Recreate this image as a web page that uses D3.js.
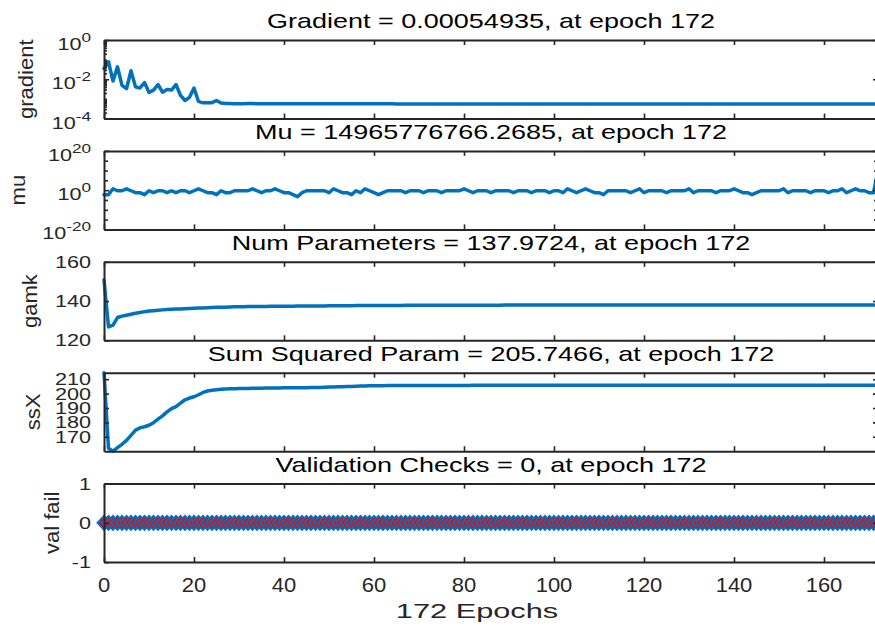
<!DOCTYPE html>
<html><head><meta charset="utf-8">
<script src="https://cdn.jsdelivr.net/npm/d3@7"></script>
<style>html,body{margin:0;padding:0;background:#fff;} svg{display:block;}</style>
</head><body><svg id="c" width="875" height="628"></svg>
<script>
// ---------------- data ----------------
const epochs = d3.range(0, 173);
const xTicks = [0, 20, 40, 60, 80, 100, 120, 140, 160];

const titles = [
  "Gradient = 0.00054935, at epoch 172",
  "Mu = 14965776766.2685, at epoch 172",
  "Num Parameters = 137.9724, at epoch 172",
  "Sum Squared Param = 205.7466, at epoch 172",
  "Validation Checks = 0, at epoch 172"
];
const yLabels = ["gradient", "mu", "gamk", "ssX", "val fail"];

const gradTicks = [1, 1e-2, 1e-4];
const gradExp = ["0", "-2", "-4"];
const muTicks = [1e20, 1, 1e-20];
const muExp = ["20", "0", "-20"];
const muMinor = [1e15, 1e10, 1e5, 1e-5, 1e-10, 1e-15];
const gamkTicks = [120, 140, 160];
const ssXTicks = [170, 180, 190, 200, 210];
const valTicks = [-1, 0, 1];

const gradient = [
  3.5e-2, 7.8e-2, 8.1e-3, 4.3e-2, 4.9e-3, 3.3e-3, 2.7e-2, 4.1e-3, 3.6e-3, 6.8e-3,
  2.1e-3, 2.8e-3, 5.4e-3, 2.2e-3, 3.0e-3, 2.8e-3, 5.4e-3, 1.5e-3, 8.3e-4, 1.2e-3,
  3.6e-3, 7.4e-4, 6.3e-4, 6.3e-4, 6.4e-4, 8.3e-4, 6.2e-4, 5.8e-4, 5.8e-4, 5.7e-4,
  5.6e-4, 5.7e-4, 5.8e-4, 5.8e-4, 5.7e-4, 5.6e-4, 5.6e-4, 5.6e-4, 5.6e-4, 5.6e-4,
  5.6e-4, 5.7e-4, 5.6e-4, 5.6e-4, 5.6e-4, 5.6e-4, 5.6e-4, 5.6e-4, 5.6e-4, 5.6e-4,
  5.6e-4, 5.6e-4, 5.6e-4, 5.6e-4, 5.6e-4, 5.6e-4, 5.6e-4, 5.6e-4, 5.6e-4, 5.6e-4,
  5.6e-4, 5.6e-4, 5.6e-4, 5.6e-4, 5.6e-4, 5.5e-4, 5.5e-4, 5.5e-4, 5.5e-4, 5.5e-4,
  5.5e-4, 5.5e-4, 5.5e-4, 5.5e-4, 5.5e-4, 5.5e-4, 5.5e-4, 5.5e-4, 5.5e-4, 5.5e-4,
  5.5e-4, 5.5e-4, 5.5e-4, 5.5e-4, 5.5e-4, 5.5e-4, 5.5e-4, 5.5e-4, 5.5e-4, 5.5e-4,
  5.5e-4, 5.5e-4, 5.5e-4, 5.5e-4, 5.5e-4, 5.5e-4, 5.5e-4, 5.5e-4, 5.5e-4, 5.5e-4,
  5.5e-4, 5.5e-4, 5.5e-4, 5.5e-4, 5.5e-4, 5.5e-4, 5.5e-4, 5.5e-4, 5.5e-4, 5.5e-4,
  5.5e-4, 5.5e-4, 5.5e-4, 5.5e-4, 5.5e-4, 5.5e-4, 5.5e-4, 5.5e-4, 5.5e-4, 5.5e-4,
  5.5e-4, 5.5e-4, 5.5e-4, 5.5e-4, 5.5e-4, 5.5e-4, 5.5e-4, 5.5e-4, 5.5e-4, 5.5e-4,
  5.5e-4, 5.5e-4, 5.5e-4, 5.5e-4, 5.5e-4, 5.5e-4, 5.5e-4, 5.5e-4, 5.5e-4, 5.5e-4,
  5.5e-4, 5.5e-4, 5.5e-4, 5.5e-4, 5.5e-4, 5.5e-4, 5.5e-4, 5.5e-4, 5.5e-4, 5.5e-4,
  5.5e-4, 5.5e-4, 5.5e-4, 5.5e-4, 5.5e-4, 5.5e-4, 5.5e-4, 5.5e-4, 5.5e-4, 5.5e-4,
  5.5e-4, 5.5e-4, 5.5e-4, 5.5e-4, 5.5e-4, 5.5e-4, 5.5e-4, 5.5e-4, 5.5e-4, 5.5e-4,
  5.5e-4, 5.5e-4, 5.4935e-4
];

const mu = [
  0.005, 0.005, 5, 0.5, 0.5, 5, 0.5, 0.05, 0.05, 0.005,
  0.5, 0.05, 0.5, 0.5, 0.05, 0.5, 0.05, 0.5, 0.5, 0.05,
  0.5, 5, 0.5, 0.05, 0.05, 0.005, 0.5, 0.05, 0.05, 0.5,
  0.5, 0.5, 0.5, 5, 0.5, 0.05, 0.5, 0.5, 5, 0.5,
  0.05, 0.05, 0.005, 0.0005, 0.05, 0.5, 0.5, 0.5, 0.5, 0.5,
  0.05, 5, 0.5, 0.05, 0.05, 0.005, 0.5, 0.05, 5, 0.5,
  0.05, 0.005, 0.05, 0.5, 0.5, 0.5, 0.5, 0.05, 0.5, 0.5,
  0.5, 0.05, 0.5, 0.5, 0.5, 0.05, 0.5, 0.5, 0.5, 0.5,
  5, 0.5, 0.05, 0.5, 0.5, 0.5, 0.05, 0.5, 0.5, 0.5,
  0.5, 0.05, 0.5, 0.5, 0.5, 0.05, 0.5, 0.5, 0.5, 0.05,
  0.5, 0.5, 0.05, 5, 0.5, 0.05, 0.5, 5, 0.5, 0.05,
  0.05, 0.005, 0.5, 0.5, 0.5, 0.5, 0.5, 0.05, 0.5, 5,
  0.05, 0.5, 0.5, 0.5, 0.5, 0.05, 0.5, 0.5, 0.5, 0.5,
  5, 0.05, 0.5, 0.5, 0.5, 0.5, 0.05, 0.5, 0.5, 0.5,
  5, 0.5, 0.05, 0.05, 0.005, 0.05, 0.5, 0.5, 0.5, 0.5,
  0.5, 5, 0.05, 0.5, 0.5, 0.5, 0.5, 0.05, 0.5, 0.5,
  0.5, 0.05, 0.5, 0.5, 5, 0.05, 0.5, 5, 0.5, 0.5,
  0.05, 0.05, 14965776766.2685
];

const gamk = [
  150.8, 126.8, 127.7, 131.6, 132.3, 132.8, 133.3, 133.8, 134.2, 134.6,
  134.9, 135.1, 135.3, 135.5, 135.65, 135.8, 135.9, 136.0, 136.1, 136.2,
  136.3, 136.4, 136.5, 136.6, 136.7, 136.8, 136.85, 136.9, 137.0, 137.05,
  137.1, 137.13, 137.16, 137.19, 137.22, 137.25, 137.28, 137.3, 137.32, 137.34,
  137.36, 137.38, 137.4, 137.42, 137.44, 137.46, 137.48, 137.5, 137.52, 137.54,
  137.56, 137.58, 137.6, 137.62, 137.64, 137.66, 137.68, 137.7, 137.71, 137.72,
  137.73, 137.74, 137.75, 137.76, 137.77, 137.78, 137.79, 137.8, 137.81, 137.82,
  137.83, 137.84, 137.85, 137.86, 137.87, 137.87, 137.88, 137.88, 137.89, 137.89,
  137.9, 137.9, 137.91, 137.91, 137.91, 137.92, 137.92, 137.92, 137.92, 137.93,
  137.93, 137.93, 137.93, 137.93, 137.94, 137.94, 137.94, 137.94, 137.94, 137.94,
  137.95, 137.95, 137.95, 137.95, 137.95, 137.95, 137.95, 137.95, 137.95, 137.95,
  137.96, 137.96, 137.96, 137.96, 137.96, 137.96, 137.96, 137.96, 137.96, 137.96,
  137.96, 137.96, 137.96, 137.96, 137.96, 137.96, 137.96, 137.96, 137.96, 137.96,
  137.97, 137.97, 137.97, 137.97, 137.97, 137.97, 137.97, 137.97, 137.97, 137.97,
  137.97, 137.97, 137.97, 137.97, 137.97, 137.97, 137.97, 137.97, 137.97, 137.97,
  137.97, 137.97, 137.97, 137.97, 137.97, 137.97, 137.97, 137.97, 137.97, 137.97,
  137.97, 137.97, 137.97, 137.97, 137.97, 137.97, 137.97, 137.97, 137.97, 137.97,
  137.97, 137.97, 137.9724
];

const ssX = [
  214.5, 162.0, 160.0, 162.5, 164.8, 167.5, 171.0, 174.6, 176.2, 177.0,
  178.0, 179.8, 182.2, 184.5, 187.3, 189.6, 191.0, 193.4, 195.7, 196.9,
  197.8, 199.2, 200.8, 201.8, 202.3, 202.7, 203.0, 203.2, 203.3, 203.4,
  203.5, 203.55, 203.6, 203.65, 203.7, 203.75, 203.8, 203.85, 203.9, 203.95,
  204.0, 204.0, 204.05, 204.05, 204.1, 204.1, 204.15, 204.2, 204.3, 204.4,
  204.5, 204.6, 204.7, 204.8, 204.9, 205.0, 205.1, 205.2, 205.3, 205.4,
  205.45, 205.5, 205.52, 205.54, 205.56, 205.58, 205.6, 205.6, 205.61, 205.62,
  205.63, 205.64, 205.65, 205.66, 205.67, 205.68, 205.68, 205.69, 205.69, 205.7,
  205.7, 205.7, 205.71, 205.71, 205.71, 205.72, 205.72, 205.72, 205.72, 205.72,
  205.73, 205.73, 205.73, 205.73, 205.73, 205.73, 205.73, 205.73, 205.73, 205.73,
  205.74, 205.74, 205.74, 205.74, 205.74, 205.74, 205.74, 205.74, 205.74, 205.74,
  205.74, 205.74, 205.74, 205.74, 205.74, 205.74, 205.74, 205.74, 205.74, 205.74,
  205.74, 205.74, 205.74, 205.74, 205.74, 205.74, 205.74, 205.74, 205.74, 205.74,
  205.74, 205.74, 205.74, 205.74, 205.74, 205.74, 205.74, 205.74, 205.74, 205.74,
  205.75, 205.75, 205.75, 205.75, 205.75, 205.75, 205.75, 205.75, 205.75, 205.75,
  205.75, 205.75, 205.75, 205.75, 205.75, 205.75, 205.75, 205.75, 205.75, 205.75,
  205.75, 205.75, 205.75, 205.75, 205.75, 205.75, 205.75, 205.75, 205.75, 205.75,
  205.75, 205.75, 205.7466
];

const valFail = [
  0,0,0,0,0,0,0,0,0,0, 0,0,0,0,0,0,0,0,0,0, 0,0,0,0,0,0,0,0,0,0,
  0,0,0,0,0,0,0,0,0,0, 0,0,0,0,0,0,0,0,0,0, 0,0,0,0,0,0,0,0,0,0,
  0,0,0,0,0,0,0,0,0,0, 0,0,0,0,0,0,0,0,0,0, 0,0,0,0,0,0,0,0,0,0,
  0,0,0,0,0,0,0,0,0,0, 0,0,0,0,0,0,0,0,0,0, 0,0,0,0,0,0,0,0,0,0,
  0,0,0,0,0,0,0,0,0,0, 0,0,0,0,0,0,0,0,0,0, 0,0,0,0,0,0,0,0,0,0,
  0,0,0,0,0,0,0,0,0,0, 0,0,0,0,0,0,0,0,0,0, 0,0,0
];

// ---------------- layout ----------------
const FONT = "'Liberation Sans', Arial, Helvetica, sans-serif";
const AX = "#262626";
const LINE = "#0072BD";
const X0 = 104, X1 = 878;
const PH = 78.5;
const topOf = i => 40 + 110.9 * i;

const svg = d3.select("#c");
svg.append("rect").attr("width", 875).attr("height", 628).attr("fill", "#fff");

const x = d3.scaleLinear().domain([0, 172]).range([X0, X1]);

function stext(g, tx, ty, str, size, sx, anchor, rot, color) {
  const t = g.append("text")
    .attr("transform", `translate(${tx},${ty})` + (rot ? " rotate(-90)" : "") + ` scale(${sx},1)`)
    .attr("font-family", FONT).attr("font-size", size)
    .attr("text-anchor", anchor).attr("fill", color || AX);
  t.text(str);
  return t;
}
function powText(g, tx, ty, exp) {
  const t = g.append("text")
    .attr("transform", `translate(${tx},${ty}) scale(1.27,1)`)
    .attr("font-family", FONT).attr("font-size", 17)
    .attr("text-anchor", "end").attr("fill", AX);
  t.append("tspan").text("10");
  t.append("tspan").attr("font-size", 13.5).attr("dy", -8).text(exp);
}

const panels = [
  { values: gradient, log: true, domain: [1e-4, 1], ticks: gradTicks, exps: gradExp,
    minor: d3.scaleLog().domain([1e-4, 1]).ticks().filter(v => !gradTicks.includes(v)), labelX: 33 },
  { values: mu, log: true, domain: [1e-20, 1e20], ticks: muTicks, exps: muExp, minor: muMinor, labelX: 25 },
  { values: gamk, log: false, domain: [120, 160], ticks: gamkTicks, labelX: 37 },
  { values: ssX, log: false, domain: [160, 214.5], ticks: ssXTicks, labelX: 40 },
  { values: valFail, log: false, domain: [-1, 1], ticks: valTicks, labelX: 59, markers: true }
];

panels.forEach((p, i) => {
  const top = topOf(i), bot = top + PH;
  const y = (p.log ? d3.scaleLog() : d3.scaleLinear()).domain(p.domain).range([bot, top]);
  const g = svg.append("g");

  // data line
  const line = d3.line().x((d, k) => x(epochs[k])).y(d => y(d));
  g.append("path").datum(p.values).attr("d", line)
    .attr("fill", "none").attr("stroke", LINE).attr("stroke-width", p.markers ? 2 : 3.5)
    .attr("stroke-linejoin", "round").attr("stroke-linecap", "round");

  if (p.markers) {
    g.append("g").selectAll("path").data(p.values).join("path")
      .attr("transform", (d, k) => `translate(${x(epochs[k])},${y(d)})`)
      .attr("d", "M-6.5,0L0,-7L6.5,0L0,7Z")
      .attr("fill", "#FF0000").attr("stroke", LINE).attr("stroke-width", 2);
  }

  // axes (box with inward ticks)
  const ax = [];
  ax.push(g.append("g").attr("transform", `translate(0,${bot})`)
    .call(d3.axisBottom(x).tickValues(xTicks).tickSize(-5).tickSizeOuter(0).tickFormat("")));
  ax.push(g.append("g").attr("transform", `translate(0,${top})`)
    .call(d3.axisTop(x).tickValues(xTicks).tickSize(-5).tickSizeOuter(0).tickFormat("")));
  ax.push(g.append("g").attr("transform", `translate(${X0},0)`)
    .call(d3.axisLeft(y).tickValues(p.ticks).tickSize(-5).tickSizeOuter(0).tickFormat("")));
  ax.push(g.append("g").attr("transform", `translate(${X1},0)`)
    .call(d3.axisRight(y).tickValues(p.ticks).tickSize(-5).tickSizeOuter(0).tickFormat("")));
  if (p.minor) {
    const len = i === 0 ? -3 : -4;
    const ml = g.append("g").attr("transform", `translate(${X0},0)`)
      .call(d3.axisLeft(y).tickValues(p.minor).tickSize(len).tickSizeOuter(0).tickFormat(""));
    ml.select(".domain").remove();
    ax.push(ml);
    const mr = g.append("g").attr("transform", `translate(${X1},0)`)
      .call(d3.axisRight(y).tickValues(p.minor).tickSize(len).tickSizeOuter(0).tickFormat(""));
    mr.select(".domain").remove();
    ax.push(mr);
  }
  ax.forEach(a => {
    a.select(".domain").attr("stroke", AX).attr("stroke-width", 2);
    a.selectAll(".tick line").attr("stroke", AX).attr("stroke-width", 1.6);
  });

  // y tick labels
  p.ticks.forEach((t, k) => {
    if (p.log) powText(g, 91, y(t) + 10, p.exps[k]);
    else stext(g, 91, y(t) + 6, String(t), 17, 1.27, "end", false);
  });

  // title
  stext(g, (X0 + X1) / 2, top - 12, titles[i], 20, 1.35, "middle", false, "#000");
  // y label
  stext(g, p.labelX, top + PH / 2, yLabels[i], 19.5, 1.13, "middle", true);

  // x tick labels on last panel
  if (i === panels.length - 1) {
    xTicks.forEach(t => stext(g, x(t), bot + 30, String(t), 20, 1.1, "middle", false));
    stext(g, 477, bot + 56, "172 Epochs", 20.5, 1.5, "middle", false);
  }
});
</script>
</body></html>
